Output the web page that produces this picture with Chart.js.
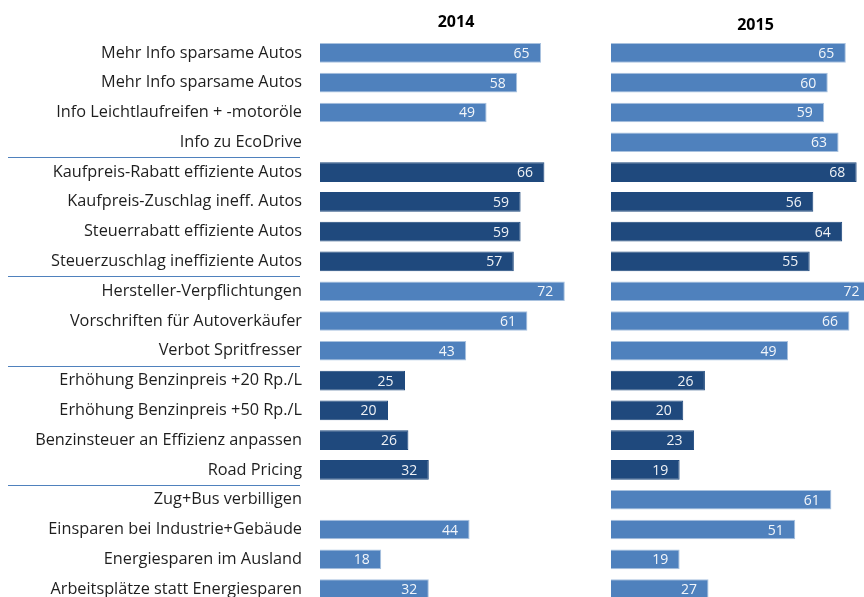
<!DOCTYPE html>
<html>
<head>
<meta charset="utf-8">
<script src="https://cdn.jsdelivr.net/npm/chart.js@4.4.1/dist/chart.umd.min.js"></script>
<style>
  html, body { margin: 0; padding: 0; background: #fff; overflow: hidden; width: 864px; height: 597px; }
  #wrap { position: relative; width: 864px; height: 597px; overflow: hidden; }
  #c2014 { position: absolute; left: 0; top: 0; }
  #c2015 { position: absolute; left: 600px; top: 0; }
</style>
</head>
<body>
<div id="wrap">
  <canvas id="c2014" width="600" height="604"></canvas>
  <canvas id="c2015" width="300" height="604"></canvas>
</div>
<script>
// Measures asked about, top to bottom
const categories = [
  "Mehr Info sparsame Autos",
  "Mehr Info sparsame Autos",
  "Info Leichtlaufreifen + -motoröle",
  "Info zu EcoDrive",
  "Kaufpreis-Rabatt effiziente Autos",
  "Kaufpreis-Zuschlag ineff. Autos",
  "Steuerrabatt effiziente Autos",
  "Steuerzuschlag ineffiziente Autos",
  "Hersteller-Verpflichtungen",
  "Vorschriften für Autoverkäufer",
  "Verbot Spritfresser",
  "Erhöhung Benzinpreis +20 Rp./L",
  "Erhöhung Benzinpreis +50 Rp./L",
  "Benzinsteuer an Effizienz anpassen",
  "Road Pricing",
  "Zug+Bus verbilligen",
  "Einsparen bei Industrie+Gebäude",
  "Energiesparen im Ausland",
  "Arbeitsplätze statt Energiesparen"
];

// Approval in percent per survey year (null = not asked)
const values2014 = [65, 58, 49, null, 66, 59, 59, 57, 72, 61, 43, 25, 20, 26, 32, null, 44, 18, 32];
const values2015 = [65, 60, 59, 63, 68, 56, 64, 55, 72, 66, 49, 26, 20, 23, 19, 61, 51, 19, 27];

// Group shading per row: 0 = information / rules, 1 = price instruments
const rowTone = [0, 0, 0, 0, 1, 1, 1, 1, 0, 0, 0, 1, 1, 1, 1, 0, 0, 0, 0];

// Rows after which a group separator is drawn
const groupEnds = [3, 7, 10, 14];

const yearTitles = ["2014", "2015"];

const LIGHT = "#4f81bd";
const LIGHT_EDGE = "#a9c2df";
const DARK = "#1f497d";
const FONT = "'Open Sans', 'Noto Sans', sans-serif";

// Year heading centred over the plotting area
const yearTitle = {
  id: "yearTitle",
  afterDraw(chart, args, opts) {
    const { ctx, chartArea } = chart;
    ctx.save();
    ctx.font = "bold 16px " + FONT;
    ctx.fillStyle = "#000";
    ctx.textAlign = "center";
    ctx.textBaseline = "middle";
    ctx.fillText(opts.text, (chartArea.left + chartArea.right) / 2, opts.y);
    ctx.restore();
  }
};

// Value printed inside the end of each bar
const barValues = {
  id: "barValues",
  afterDatasetsDraw(chart) {
    const { ctx } = chart;
    const meta = chart.getDatasetMeta(0);
    const data = chart.data.datasets[0].data;
    ctx.save();
    ctx.font = "14px " + FONT;
    ctx.fillStyle = "rgba(255,255,255,0.93)";
    ctx.textAlign = "right";
    ctx.textBaseline = "middle";
    meta.data.forEach((bar, i) => {
      if (data[i] == null) return;
      ctx.fillText(String(data[i]), bar.x - 11.5, bar.y + 1);
    });
    ctx.restore();
  }
};

// Thin rules under the label column between groups
const groupRules = {
  id: "groupRules",
  afterDraw(chart) {
    const { ctx } = chart;
    const y = chart.scales.y;
    ctx.save();
    ctx.strokeStyle = "#4f81bd";
    ctx.lineWidth = 1;
    groupEnds.forEach(i => {
      const py = Math.round((y.getPixelForValue(i) + y.getPixelForValue(i + 1)) / 2) + 0.5;
      ctx.beginPath();
      ctx.moveTo(8, py);
      ctx.lineTo(300, py);
      ctx.stroke();
    });
    ctx.restore();
  }
};

function makeDataset(values) {
  return {
    data: values,
    backgroundColor: rowTone.map(t => t ? DARK : LIGHT),
    borderColor: rowTone.map(t => t ? DARK : LIGHT_EDGE),
    borderWidth: 1,
    borderSkipped: "start",
    barPercentage: 0.66,
    categoryPercentage: 1
  };
}

function makeChart(canvasId, values, title, titleY, withLabels, padding, plugins) {
  return new Chart(document.getElementById(canvasId), {
    type: "bar",
    data: { labels: categories, datasets: [makeDataset(values)] },
    options: {
      indexAxis: "y",
      responsive: false,
      animation: false,
      devicePixelRatio: 1,
      layout: { padding },
      plugins: {
        legend: { display: false },
        tooltip: { enabled: false },
        title: { display: false },
        yearTitle: { text: title, y: titleY }
      },
      scales: {
        x: { display: false, min: 0, max: 80 },
        y: {
          display: withLabels,
          grid: { display: false, drawTicks: false },
          border: { display: false },
          ticks: {
            padding: 18,
            color: "#1e1e1e",
            font: { family: FONT, size: 16.3 }
          },
          afterFit(scale) {
            if (!withLabels) return;
            scale.width = 320;
            scale.paddingTop = 0;
            scale.paddingBottom = 0;
          }
        }
      }
    },
    plugins
  });
}

makeChart("c2014", values2014, yearTitles[0], 22.5, true,
  { top: 38, right: 8, bottom: 0, left: 0 }, [yearTitle, barValues, groupRules]);
makeChart("c2015", values2015, yearTitles[1], 25, false,
  { top: 38, right: 0, bottom: 0, left: 11 }, [yearTitle, barValues]);
</script>
</body>
</html>
